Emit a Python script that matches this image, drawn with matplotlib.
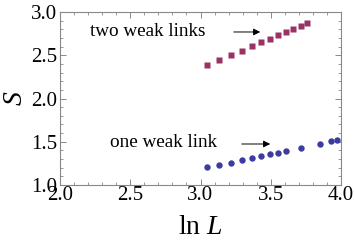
import matplotlib
matplotlib.use("Agg")
import matplotlib.pyplot as plt
from matplotlib.ticker import MultipleLocator

plt.rcParams['font.family'] = ['Liberation Serif', 'DejaVu Serif']
plt.rcParams['mathtext.fontset'] = 'custom'
plt.rcParams['mathtext.it'] = 'Liberation Serif:italic'
plt.rcParams['mathtext.rm'] = 'Liberation Serif'

two_x = [3.044, 3.134, 3.215, 3.295, 3.367, 3.433, 3.495, 3.552, 3.609, 3.660, 3.713, 3.760]
two_s = [2.387, 2.445, 2.506, 2.553, 2.603, 2.650, 2.691, 2.738, 2.769, 2.803, 2.841, 2.876]

one_x = [3.044, 3.134, 3.217, 3.293, 3.367, 3.433, 3.497, 3.554, 3.609, 3.713, 3.848, 3.929, 3.972]
one_s = [1.205, 1.235, 1.258, 1.286, 1.309, 1.335, 1.355, 1.374, 1.393, 1.428, 1.477, 1.505, 1.517]

fig = plt.figure(figsize=(3.54, 2.41), dpi=100)
ax = fig.add_axes([60/354, 1-185/241, (341-60)/354, (185-12)/241])

ax.plot(two_x, two_s, 's', color='#993366', ms=4.3, mec='none')
ax.plot(one_x, one_s, 'o', color='#3b3ba0', ms=4.6, mec='none')

ax.set_xlim(2.0, 4.0)
ax.set_ylim(1.0, 3.0)
ax.xaxis.set_major_locator(MultipleLocator(0.5))
ax.xaxis.set_minor_locator(MultipleLocator(0.1))
ax.yaxis.set_major_locator(MultipleLocator(0.5))
ax.yaxis.set_minor_locator(MultipleLocator(0.1))
ax.tick_params(which='both', direction='in', top=True, right=True, color='#888888', labelsize=15, pad=2)
ax.tick_params(axis='x', pad=1)
ax.tick_params(which='major', length=4, width=0.7)
ax.tick_params(which='minor', length=2, width=0.6)
for sp in ax.spines.values():
    sp.set_color('#888888')
    sp.set_linewidth(0.8)

ax.set_xlabel(r'ln $L$', fontsize=20, labelpad=7)
ax.set_ylabel(r'$S$', fontsize=20, labelpad=2)

ax.text(2.214, 2.77, 'two weak links', fontsize=13.8, va='center', ha='left')
ax.annotate('', xy=(3.445, 2.769), xytext=(3.217, 2.769),
            arrowprops=dict(arrowstyle='-|>', color='black', lw=0.7, mutation_scale=10))
ax.text(2.356, 1.486, 'one weak link', fontsize=13.8, va='center', ha='left')
ax.annotate('', xy=(3.516, 1.474), xytext=(3.274, 1.474),
            arrowprops=dict(arrowstyle='-|>', color='black', lw=0.7, mutation_scale=10))

fig.savefig('out.png', dpi=100)
